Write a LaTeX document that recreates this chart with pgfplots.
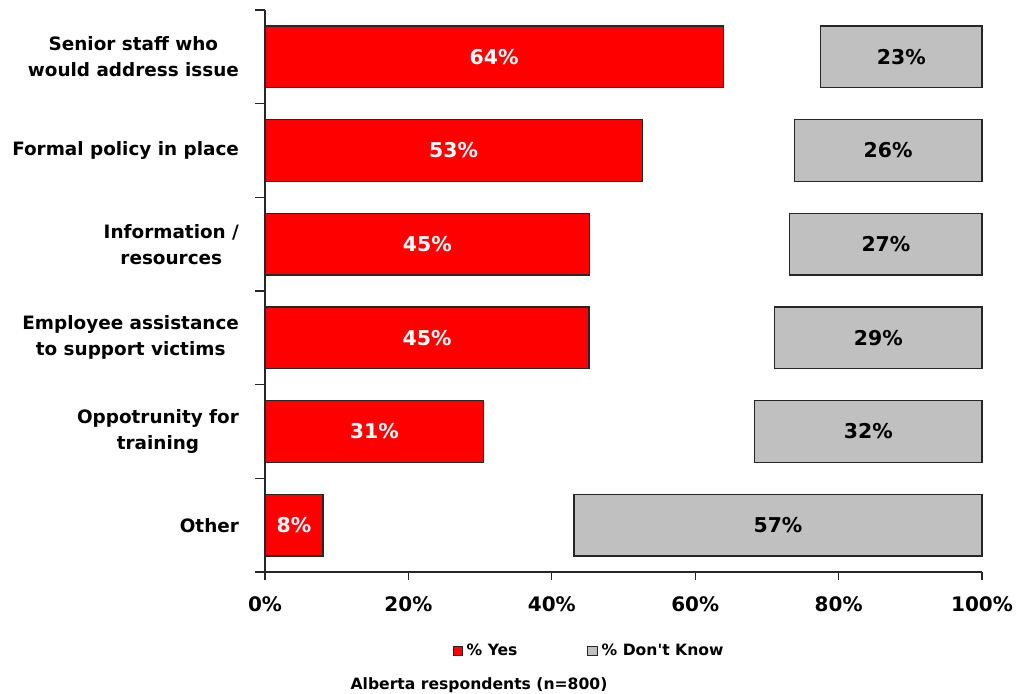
\documentclass[border=0pt]{standalone}
\usepackage{pgfplots}
\usepackage{pgfplotstable}
\pgfplotsset{compat=1.18}
\usepackage{fontspec}
\setmainfont{DejaVu Sans}
\definecolor{dkgrey}{RGB}{192,192,192}
\definecolor{yesred}{RGB}{255,0,0}

% row, yes, gap (invisible), dont know
\pgfplotstableread{
row yes gap dk
0 63.9 13.6 22.5
1 52.6 21.2 26.2
2 45.3 27.9 26.8
3 45.2 25.9 28.9
4 30.5 37.8 31.7
5 8.1 35.0 56.9
}\bardata

\pgfplotstableread{
x y lab
31.95 0 64\%
26.30 1 53\%
22.65 2 45\%
22.60 3 45\%
15.25 4 31\%
4.05 5 8\%
}\yeslabels

\pgfplotstableread{
x y lab
88.75 0 23\%
86.90 1 26\%
86.60 2 27\%
85.55 3 29\%
84.15 4 32\%
71.55 5 57\%
}\dklabels

\begin{document}
\begin{tikzpicture}
\begin{axis}[name=ax,
  width=358.5pt, height=281pt, scale only axis,
  xbar stacked, bar width=0.66,
  xmin=0, xmax=100, ymin=-0.5, ymax=5.5, y dir=reverse,
  axis x line*=bottom, axis y line*=left,
  axis line style={black!85, line width=0.6pt},
  tick align=outside,
  major tick length=4pt, minor tick length=5pt,
  tick style={black!85, line width=0.6pt},
  xtick={0,20,...,100},
  xticklabel={\pgfmathprintnumber{\tick}\%},
  ytick={0,...,5},
  yticklabels={{Senior staff who\\would address issue},{Formal policy in place},{Information /\\resources},{Employee assistance\\to support victims},{Oppotrunity for\\training},{Other}},
  major y tick style={draw=none},
  minor ytick={-0.5,0.5,...,5.5},
  /pgf/number format/assume math mode=true,
  yticklabel style={font=\fontsize{9.2}{13}\selectfont\bfseries, align=center, xshift=-5.5pt},
  xticklabel style={font=\fontsize{10}{13}\selectfont\bfseries, yshift=-5pt},
  legend style={at={(0.4533,-0.1406)}, anchor=center, draw=none, fill=none,
    legend columns=2, font=\fontsize{7.8}{9}\selectfont\bfseries,
    /tikz/every even column/.append style={column sep=33pt}},
  legend image code/.code={\draw[#1, line width=0.5pt] (0pt,-2.3pt) rectangle (4.6pt,2.3pt);},
  clip=false,
]
\addplot[fill=yesred, draw=black!85, line width=0.6pt] table[x=yes, y=row] {\bardata};
\addlegendentry{\% Yes}
\addplot[fill=none, draw=none, forget plot] table[x=gap, y=row] {\bardata};
\addplot[fill=dkgrey, draw=black!85, line width=0.6pt] table[x=dk, y=row] {\bardata};
\addlegendentry{\% Don\textquotesingle t Know}
\node[font=\fontsize{7.8}{9}\selectfont\bfseries, anchor=center] at (axis description cs:0.2985,-0.201) {Alberta respondents (n=800)};
\end{axis}
\begin{axis}[at={(ax.south west)}, anchor=south west,
  width=358.5pt, height=281pt, scale only axis, hide axis,
  xmin=0, xmax=100, ymin=-0.5, ymax=5.5, y dir=reverse, clip=false]
\addplot[only marks, mark=*, mark size=0pt, nodes near coords, point meta=explicit symbolic,
  nodes near coords style={anchor=center, text=white, font=\fontsize{10.2}{12}\selectfont\bfseries}]
  table[x=x, y=y, meta=lab] {\yeslabels};
\addplot[only marks, mark=*, mark size=0pt, nodes near coords, point meta=explicit symbolic,
  nodes near coords style={anchor=center, text=black, font=\fontsize{10.2}{12}\selectfont\bfseries}]
  table[x=x, y=y, meta=lab] {\dklabels};
\end{axis}
\pgfresetboundingbox
\path[use as bounding box] ([shift={(-132.5pt,-61pt)}]ax.south west) rectangle ([shift={(18pt,5pt)}]ax.north east);
\end{tikzpicture}
\end{document}
